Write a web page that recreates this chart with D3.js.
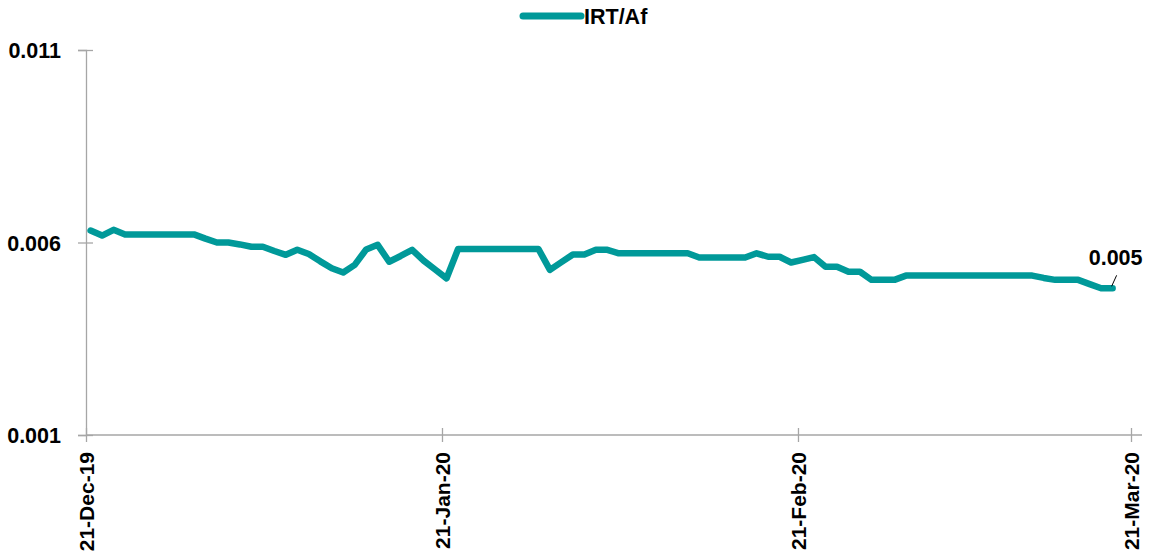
<!DOCTYPE html>
<html>
<head>
<meta charset="utf-8">
<script src="https://cdn.jsdelivr.net/npm/d3@7"></script>
<style>
  body { margin: 0; background: #fff; }
  text { font-family: "Liberation Sans", Arial, sans-serif; font-weight: bold; fill: #000; }
</style>
</head>
<body>
<div id="chart"></div>
<script>
// daily IRT/Af rate, first value is 21-Dec-19
var seriesName = "IRT/Af";
var startDate = new Date(2019, 11, 21);
var rates = [
  0.00631, 0.00618, 0.00633, 0.00621, 0.00621, 0.00621, 0.00621, 0.00621, 0.00621, 0.00621,
  0.00610, 0.00600, 0.00600, 0.00595, 0.00589, 0.00589, 0.00578, 0.00568, 0.00581, 0.00570,
  0.00551, 0.00533, 0.00522, 0.00542, 0.00582, 0.00594, 0.00550, 0.00565, 0.00581, 0.00553,
  0.00530, 0.00507, 0.00583, 0.00583, 0.00583, 0.00583, 0.00583, 0.00583, 0.00583, 0.00583,
  0.00529, 0.00549, 0.00569, 0.00569, 0.00581, 0.00581, 0.00572, 0.00572, 0.00572, 0.00572,
  0.00572, 0.00572, 0.00572, 0.00561, 0.00561, 0.00561, 0.00561, 0.00561, 0.00572, 0.00563,
  0.00563, 0.00548, 0.00555, 0.00562, 0.00537, 0.00537, 0.00524, 0.00524, 0.00503, 0.00503,
  0.00503, 0.00514, 0.00514, 0.00514, 0.00514, 0.00514, 0.00514, 0.00514, 0.00514, 0.00514,
  0.00514, 0.00514, 0.00514, 0.00508, 0.00503, 0.00503, 0.00503, 0.00492, 0.00481, 0.00481
];
var yTicks = [0.001, 0.006, 0.011];
var xTicks = [new Date(2019, 11, 21), new Date(2020, 0, 21), new Date(2020, 1, 21), new Date(2020, 2, 21)];
var xTickLabels = ["21-Dec-19", "21-Jan-20", "21-Feb-20", "21-Mar-20"];

var width = 1154, height = 556;
var color = "#009999";
var axisColor = "#a6a6a6";

var data = rates.map(function(v, i) {
  return { date: d3.timeDay.offset(startDate, i), value: v };
});

var x = d3.scaleTime()
  .domain([xTicks[0], xTicks[xTicks.length - 1]])
  .range([86, 1131]);
var y = d3.scaleLinear()
  .domain([0.001, 0.011])
  .range([435, 50]);

// points sit a bit into each day, like the excel date axis
var dayShift = 0.4 * 24 * 3600 * 1000;
function px(d) { return x(new Date(d.date.getTime() + dayShift)); }

var svg = d3.select("#chart").append("svg")
  .attr("width", width)
  .attr("height", height);

// y axis
var yAxis = svg.append("g")
  .attr("transform", "translate(86,0)")
  .call(d3.axisLeft(y).tickValues(yTicks).tickSize(8).tickPadding(17).tickFormat(d3.format(".3f")));
yAxis.select(".domain").attr("stroke", axisColor).attr("stroke-width", 1.3);
yAxis.selectAll(".tick line").attr("stroke", axisColor).attr("stroke-width", 1.3).attr("x2", -8).attr("x1", 7);
yAxis.selectAll(".tick text").attr("font-size", 21.5).attr("fill", "#000").attr("font-family", null).attr("dy", "0.35em");

// x axis
var xAxis = svg.append("g")
  .attr("transform", "translate(0,435)")
  .call(d3.axisBottom(x).tickValues(xTicks).tickSize(7)
    .tickFormat(function(d, i) { return xTickLabels[i]; }));
xAxis.select(".domain").attr("stroke", axisColor).attr("stroke-width", 1.3)
  .attr("d", "M86,0H1142");
xAxis.selectAll(".tick line").attr("stroke", axisColor).attr("stroke-width", 1.3).attr("y1", -7).attr("y2", 7);
xAxis.selectAll(".tick text")
  .attr("font-size", 21)
  .attr("fill", "#000")
  .attr("font-family", null)
  .attr("text-anchor", "end")
  .attr("transform", "rotate(-90)")
  .attr("x", -17)
  .attr("y", 0)
  .attr("dy", "0.35em");

// line
var line = d3.line()
  .x(px)
  .y(function(d) { return y(d.value); });

svg.append("path")
  .datum(data)
  .attr("fill", "none")
  .attr("stroke", color)
  .attr("stroke-width", 6.5)
  .attr("stroke-linejoin", "round")
  .attr("stroke-linecap", "round")
  .attr("d", line);

// data label on last point
var last = data[data.length - 1];
var lx = px(last), ly = y(last.value);
svg.append("line")
  .attr("x1", lx - 1).attr("y1", ly - 2)
  .attr("x2", lx + 4).attr("y2", ly - 13)
  .attr("stroke", "#000").attr("stroke-width", 1);
svg.append("text")
  .attr("x", lx + 3)
  .attr("y", ly - 23)
  .attr("text-anchor", "middle")
  .attr("font-size", 21.5)
  .text(d3.format(".3f")(last.value));

// legend
var legend = svg.append("g").attr("transform", "translate(523,16)");
legend.append("line")
  .attr("x1", 0).attr("x2", 58)
  .attr("stroke", color).attr("stroke-width", 7).attr("stroke-linecap", "round");
legend.append("text")
  .attr("x", 61).attr("y", 0).attr("dy", "0.35em")
  .attr("font-size", 21.5)
  .text(seriesName);
</script>
</body>
</html>
